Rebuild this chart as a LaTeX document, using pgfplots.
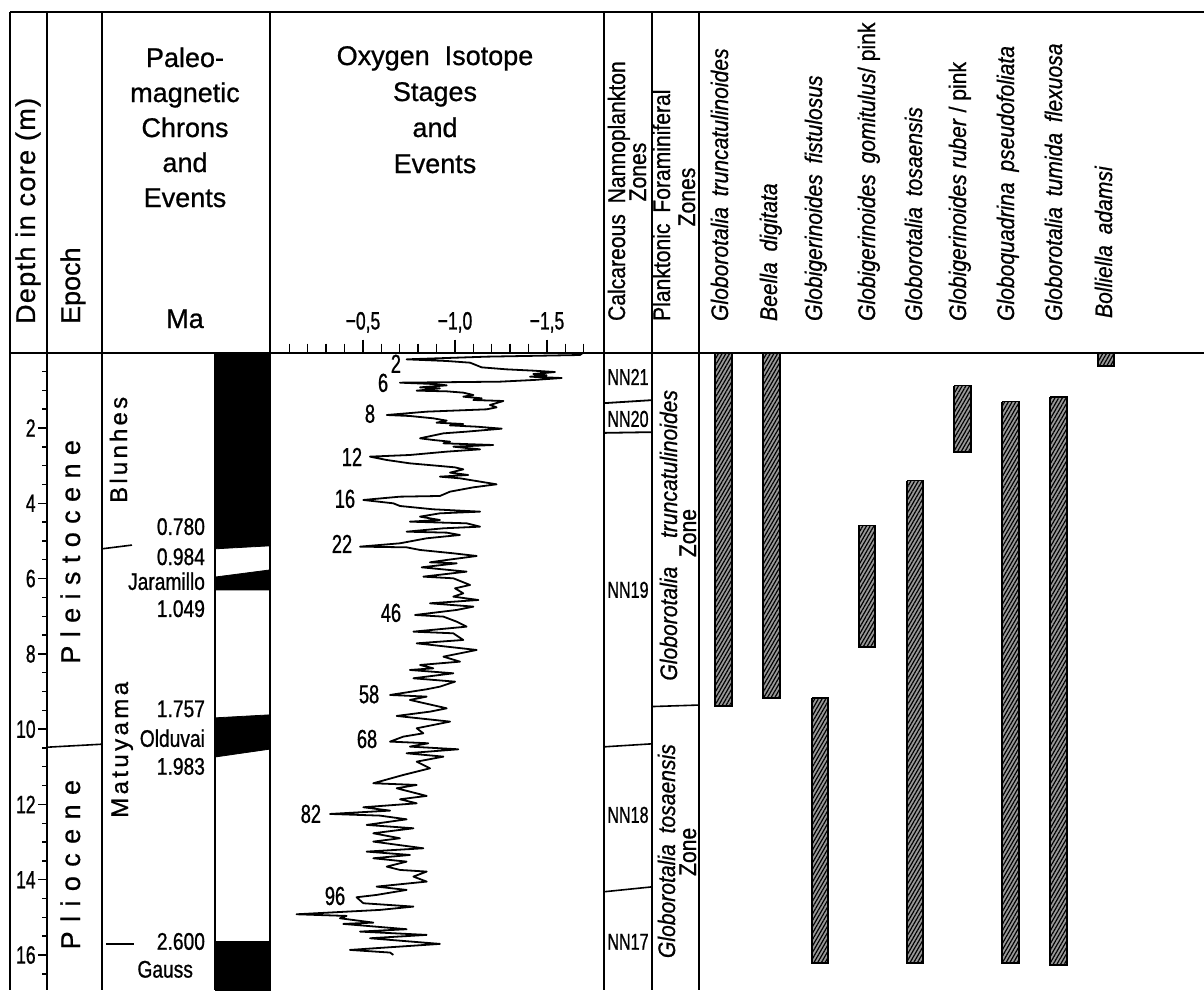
\documentclass[border=0pt]{standalone}
\usepackage{fontspec}
\setmainfont{Liberation Sans}[FakeBold=0.8]
\newfontfamily\nar{Liberation Sans}[FakeStretch=0.8,FakeBold=0.9]
\newfontfamily\nnar{Liberation Sans}[FakeStretch=0.7,FakeBold=0.9]
\newfontfamily\spc{Liberation Sans}[FakeStretch=0.88,FakeBold=0.8]
\newfontfamily\lsp{Liberation Sans}[LetterSpace=5,FakeBold=0.8]
\usepackage{pgfplots}
\pgfplotsset{compat=1.18}
\usetikzlibrary{patterns.meta}
\newlength\spk
\def\sploop#1{\ifx#1\relax\else\kern\spk#1\expandafter\sploop\fi}
\def\spfirst#1{#1\sploop}
\newcommand\spaced[2]{\setlength\spk{#1}\spfirst#2\relax}
\newcommand\hfont{\fontsize{13.5}{16}\selectfont}
\newcommand\sfont{\spc\fontsize{12}{14}\selectfont}
\newcommand\gap{\hspace{0.45em}}
\pgfplotsset{
 colline/.style={black,line width=0.9pt},
 rangebar/.style={draw=black,line width=0.8pt,line join=miter,preaction={fill=black!40},
   pattern={Lines[angle=60,distance=1.6pt,line width=0.6pt]}},
 polarity/.style={fill=black,draw=black,line width=0.4pt},
}
\begin{document}
\begin{tikzpicture}
% ---------------- frame and headers (pixel grid) ----------------
\begin{axis}[at={(0pt,0pt)},anchor=north west,width=602pt,height=495pt,scale only axis,
  xmin=0,xmax=1204,ymin=0,ymax=990,y dir=reverse,hide axis,clip=false]
\addplot[colline] coordinates {(10,12)(1204,12)};
\addplot[colline] coordinates {(10,352.7)(1204,352.7)};
\addplot[colline] coordinates {(10,12)(10,990)};
\addplot[colline] coordinates {(47,12)(47,990)};
\addplot[colline] coordinates {(102,12)(102,990)};
\addplot[colline] coordinates {(270,12)(270,990)};
\addplot[colline] coordinates {(604,12)(604,990)};
\addplot[colline] coordinates {(652,12)(652,990)};
\addplot[colline] coordinates {(699,12)(699,990)};
\node[rotate=90,anchor=base west,font=\lsp\hfont] at (axis cs:35,331) {Depth in core (m)};
\node[rotate=90,anchor=base west,font=\hfont] at (axis cs:80,331) {Epoch};
\node[anchor=base,font=\hfont] at (axis cs:185,67) {Paleo-};
\node[anchor=base,font=\hfont] at (axis cs:185,102) {magnetic};
\node[anchor=base,font=\hfont] at (axis cs:185,137) {Chrons};
\node[anchor=base,font=\hfont] at (axis cs:185,172) {and};
\node[anchor=base,font=\hfont] at (axis cs:185,207) {Events};
\node[anchor=base,font=\hfont] at (axis cs:185,328) {Ma};
\node[anchor=base,font=\hfont] at (axis cs:435,65) {Oxygen\ \ Isotope};
\node[anchor=base,font=\hfont] at (axis cs:435,101) {Stages};
\node[anchor=base,font=\hfont] at (axis cs:435,137) {and};
\node[anchor=base,font=\hfont] at (axis cs:435,173) {Events};
\node[rotate=90,anchor=base west,font=\sfont] at (axis cs:625,328) {Calcareous\gap Nannoplankton};
\node[rotate=90,anchor=base,font=\sfont] at (axis cs:646,172) {Zones};
\node[rotate=90,anchor=base west,font=\sfont] at (axis cs:670,328) {Planktonic\gap Foraminiferal};
\node[rotate=90,anchor=base,font=\sfont] at (axis cs:695,197) {Zones};
\node[rotate=90,anchor=base west,font=\sfont\itshape] at (axis cs:728,328) {Globorotalia\gap truncatulinoides};
\node[rotate=90,anchor=base west,font=\sfont\itshape] at (axis cs:777,328) {Beella\gap digitata};
\node[rotate=90,anchor=base west,font=\sfont\itshape] at (axis cs:822,328) {Globigerinoides\gap fistulosus};
\node[rotate=90,anchor=base west,font=\sfont] at (axis cs:875,328) {\textit{Globigerinoides\gap gomitulus}/ pink};
\node[rotate=90,anchor=base west,font=\sfont\itshape] at (axis cs:922,328) {Globorotalia\gap tosaensis};
\node[rotate=90,anchor=base west,font=\sfont] at (axis cs:966,328) {\textit{Globigerinoides ruber} / pink};
\node[rotate=90,anchor=base west,font=\sfont\itshape] at (axis cs:1014,328) {Globoquadrina\gap pseudofoliata};
\node[rotate=90,anchor=base west,font=\sfont\itshape] at (axis cs:1062,328) {Globorotalia\gap tumida\gap flexuosa};
\node[rotate=90,anchor=base west,font=\sfont\itshape] at (axis cs:1112,325) {Bolliella\gap adamsi};
\end{axis}
% ---------------- body in depth units ----------------
\begin{axis}[at={(0pt,-176.35pt)},anchor=north west,width=602pt,height=318.65pt,scale only axis,
  xmin=0,xmax=1204,ymin=0,ymax=16.93,y dir=reverse,hide axis,clip=false]
% polarity column
\addplot[polarity] coordinates {(215,0)(270,0)(270,5.13)(215,5.21)};
\addplot[polarity] coordinates {(215,5.96)(270,5.77)(270,6.30)(215,6.30)};
\addplot[polarity] coordinates {(215,9.70)(270,9.62)(270,10.53)(215,10.74)};
\addplot[polarity] coordinates {(215,15.65)(270,15.65)(270,16.93)(215,16.93)};
\addplot[colline] coordinates {(215,0)(215,16.93)};
% chron boundaries and epoch boundary
\addplot[black,line width=0.8pt] coordinates {(102,5.21)(132,5.11)};
\addplot[black,line width=0.8pt] coordinates {(106,15.70)(134,15.70)};
\addplot[black,line width=0.8pt] coordinates {(47,10.48)(102,10.40)};
% nannoplankton zone boundaries
\addplot[colline] coordinates {(604,1.34)(652,1.26)};
\addplot[colline] coordinates {(604,2.13)(652,2.11)};
\addplot[black,line width=0.8pt] coordinates {(604,10.47)(652,10.39)};
\addplot[black,line width=0.8pt] coordinates {(604,14.32)(652,14.19)};
% foraminiferal zone boundary
\addplot[black,line width=0.8pt] coordinates {(652,9.40)(699,9.36)};
% species ranges
\addplot[rangebar] coordinates {(715,0)(732,0)(732,9.39)(715,9.39)(715,0)};
\addplot[rangebar] coordinates {(763,0)(780,0)(780,9.18)(763,9.18)(763,0)};
\addplot[rangebar] coordinates {(812,9.18)(828,9.18)(828,16.22)(812,16.22)(812,9.18)};
\addplot[rangebar] coordinates {(859,4.59)(875,4.59)(875,7.82)(859,7.82)(859,4.59)};
\addplot[rangebar] coordinates {(907,3.40)(923,3.40)(923,16.22)(907,16.22)(907,3.40)};
\addplot[rangebar] coordinates {(954,0.875)(971,0.875)(971,2.63)(954,2.63)(954,0.875)};
\addplot[rangebar] coordinates {(1002,1.30)(1019,1.30)(1019,16.22)(1002,16.22)(1002,1.30)};
\addplot[rangebar] coordinates {(1050,1.17)(1067,1.17)(1067,16.27)(1050,16.27)(1050,1.17)};
\addplot[rangebar] coordinates {(1098,0)(1114,0)(1114,0.35)(1098,0.35)(1098,0)};
% epoch and chron names
\node[rotate=90,anchor=base,font=\hfont] at (axis cs:80,5.29) {\spaced{4.2pt}{Pleistocene}};
\node[rotate=90,anchor=base,font=\hfont] at (axis cs:80,13.60) {\spaced{4.7pt}{Pliocene}};
\node[rotate=90,anchor=base,font=\fontsize{12}{14}\selectfont] at (axis cs:127,2.58) {\spaced{1.6pt}{Blunhes}};
\node[rotate=90,anchor=base,font=\fontsize{12}{14}\selectfont] at (axis cs:128,10.55) {\spaced{1.7pt}{Matuyama}};
% ages and events
\node[anchor=base east,font=\nar\fontsize{12}{14}\selectfont] at (axis cs:212,4.84) {0.780};
\node[anchor=base east,font=\nar\fontsize{12}{14}\selectfont] at (axis cs:212,5.64) {0.984};
\node[anchor=base east,font=\nar\fontsize{12}{14}\selectfont] at (axis cs:212,6.30) {Jaramillo};
\node[anchor=base east,font=\nar\fontsize{12}{14}\selectfont] at (axis cs:212,7.02) {1.049};
\node[anchor=base east,font=\nar\fontsize{12}{14}\selectfont] at (axis cs:212,9.68) {1.757};
\node[anchor=base east,font=\nar\fontsize{12}{14}\selectfont] at (axis cs:212,10.47) {Olduvai};
\node[anchor=base east,font=\nar\fontsize{12}{14}\selectfont] at (axis cs:212,11.21) {1.983};
\node[anchor=base east,font=\nar\fontsize{12}{14}\selectfont] at (axis cs:212,15.86) {2.600};
\node[anchor=base east,font=\nar\fontsize{12}{14}\selectfont] at (axis cs:200,16.60) {Gauss};
% nannoplankton zones
\node[anchor=base,font=\nnar\fontsize{11.5}{13}\selectfont] at (axis cs:628,0.857) {NN21};
\node[anchor=base,font=\nnar\fontsize{11.5}{13}\selectfont] at (axis cs:628,1.97) {NN20};
\node[anchor=base,font=\nnar\fontsize{11.5}{13}\selectfont] at (axis cs:628,6.51) {NN19};
\node[anchor=base,font=\nnar\fontsize{11.5}{13}\selectfont] at (axis cs:628,12.49) {NN18};
\node[anchor=base,font=\nnar\fontsize{11.5}{13}\selectfont] at (axis cs:628,15.86) {NN17};
% foraminiferal zones
\node[rotate=90,anchor=base,font=\sfont\itshape] at (axis cs:677,4.85) {Globorotalia\hspace{1.2em}truncatulinoides};
\node[rotate=90,anchor=base,font=\sfont] at (axis cs:696,4.79) {Zone};
\node[rotate=90,anchor=base,font=\sfont\itshape] at (axis cs:675,13.24) {Globorotalia\gap tosaensis};
\node[rotate=90,anchor=base,font=\sfont] at (axis cs:696,13.26) {Zone};
\end{axis}
% ---------------- depth scale ----------------
\begin{axis}[at={(23.5pt,-176.35pt)},anchor=north west,width=10pt,height=318.65pt,scale only axis,
  xmin=0,xmax=1,ymin=0,ymax=16.93,y dir=reverse,axis x line=none,axis y line=left,
  y axis line style={-,line width=0.9pt},
  ytick={2,4,6,8,10,12,14,16},yticklabels={2,4,6,8,10,12,14,16},
  minor ytick={0.5,1,1.5,2.5,3,3.5,4.5,5,5.5,6.5,7,7.5,8.5,9,9.5,10.5,11,11.5,12.5,13,13.5,14.5,15,15.5,16.5},
  tick align=outside,major tick length=4.5pt,minor tick length=2.5pt,
  every tick/.style={black,line width=0.7pt},
  yticklabel style={font=\nnar\fontsize{12.5}{13}\selectfont,inner sep=1pt}]
\addplot[draw=none] coordinates {(0,0)(1,16)};
\end{axis}
% ---------------- oxygen isotope curve ----------------
\begin{axis}[at={(135pt,-176.35pt)},anchor=north west,width=167pt,height=318.65pt,scale only axis,
  xmin=-1.8098,xmax=0.0054,x dir=reverse,ymin=0,ymax=16.93,y dir=reverse,
  axis y line=none,axis x line=top,x axis line style={-,line width=0.9pt},
  xtick={-0.5,-1,-1.5},xticklabels={{−0,5},{−1,0},{−1,5}},
  minor xtick={-0.1,-0.2,-0.3,-0.4,-0.6,-0.7,-0.8,-0.9,-1.1,-1.2,-1.3,-1.4,-1.6,-1.7},
  tick align=outside,major tick length=6.5pt,minor tick length=4.5pt,
  every tick/.style={black,line width=0.7pt},
  xticklabel style={font=\nnar\fontsize{12.5}{13}\selectfont},clip=false]
\addplot[black,line width=0.9pt,line join=round] coordinates {
(-1.697,0.000)(-1.679,0.061)(-1.172,0.105)(-0.737,0.176)(-0.955,0.220)(-1.082,0.265)
(-1.145,0.389)(-1.281,0.442)(-1.426,0.477)(-1.543,0.513)(-1.426,0.566)(-1.498,0.601)
(-1.408,0.637)(-1.580,0.672)(-1.426,0.725)(-1.245,0.769)(-0.701,0.796)(-0.882,0.831)
(-0.955,0.867)(-0.810,0.920)(-0.918,0.947)(-0.792,1.008)(-0.955,1.026)(-1.045,1.061)
(-1.100,1.124)(-1.045,1.168)(-1.145,1.212)(-1.100,1.256)(-1.263,1.283)(-1.190,1.389)
(-1.226,1.451)(-1.172,1.504)(-0.846,1.566)(-0.629,1.655)(-0.755,1.681)(-0.882,1.743)
(-0.955,1.805)(-0.900,1.858)(-1.045,1.894)(-0.973,1.930)(-1.118,1.965)(-1.254,2.018)
(-1.063,2.097)(-0.937,2.142)(-0.810,2.274)(-0.882,2.319)(-0.973,2.363)(-0.937,2.407)
(-1.208,2.452)(-0.991,2.496)(-1.136,2.567)(-0.955,2.628)(-0.755,2.717)(-0.538,2.761)
(-0.629,2.850)(-0.755,2.939)(-0.918,3.009)(-0.999,3.045)(-1.045,3.098)(-0.973,3.186)
(-1.072,3.248)(-0.918,3.293)(-1.027,3.337)(-1.226,3.496)(-1.100,3.576)(-0.973,3.691)
(-0.918,3.806)(-0.701,3.824)(-0.502,3.912)(-0.665,4.001)(-0.701,4.072)(-0.882,4.160)
(-1.136,4.222)(-0.918,4.267)(-0.810,4.355)(-0.918,4.444)(-0.755,4.488)(-1.063,4.532)
(-1.136,4.621)(-0.937,4.665)(-0.737,4.754)(-0.955,4.780)(-1.027,4.842)(-0.846,4.930)
(-0.701,5.063)(-0.484,5.152)(-0.737,5.170)(-0.810,5.240)(-0.991,5.329)(-1.118,5.400)
(-0.955,5.506)(-0.864,5.568)(-1.009,5.595)(-0.819,5.701)(-1.063,5.816)(-0.828,5.949)
(-0.991,5.993)(-1.082,6.170)(-1.000,6.259)(-1.045,6.392)(-0.991,6.480)(-1.127,6.569)
(-0.864,6.657)(-1.100,6.745)(-1.009,6.834)(-0.783,6.967)(-0.937,7.011)(-1.009,7.144)
(-1.063,7.277)(-0.774,7.410)(-0.991,7.454)(-1.045,7.631)(-0.792,7.720)(-0.955,7.808)
(-1.118,7.897)(-0.937,8.074)(-1.027,8.207)(-0.810,8.295)(-0.882,8.384)(-0.755,8.428)
(-0.991,8.516)(-0.774,8.649)(-1.000,8.738)(-0.918,8.871)(-0.846,8.941)(-0.647,9.092)
(-0.846,9.136)(-0.755,9.224)(-0.955,9.446)(-0.864,9.535)(-0.683,9.649)(-0.973,9.800)
(-0.792,9.977)(-0.828,10.110)(-0.719,10.199)(-0.647,10.331)(-0.855,10.375)(-0.755,10.464)
(-1.018,10.535)(-0.737,10.641)(-0.937,10.730)(-0.792,10.863)(-0.864,11.040)(-0.719,11.217)
(-0.556,11.438)(-0.792,11.482)(-0.683,11.571)(-0.846,11.774)(-0.701,11.863)(-0.792,11.970)
(-0.502,12.075)(-0.647,12.164)(-0.321,12.253)(-0.592,12.297)(-0.737,12.395)(-0.520,12.544)
(-0.774,12.633)(-0.556,12.766)(-0.701,12.899)(-0.556,12.987)(-0.828,13.165)(-0.520,13.253)
(-0.755,13.342)(-0.556,13.430)(-0.737,13.519)(-0.629,13.652)(-0.701,13.740)(-0.846,13.784)
(-0.774,13.917)(-0.846,14.050)(-0.574,14.183)(-0.737,14.271)(-0.574,14.404)(-0.465,14.466)
(-0.502,14.625)(-0.774,14.714)(-0.592,14.802)(-0.139,14.918)(-0.411,14.962)(-0.375,15.024)
(-0.556,15.139)(-0.393,15.174)(-0.737,15.315)(-0.484,15.378)(-0.846,15.466)(-0.538,15.555)
(-0.918,15.705)(-0.429,15.865)(-0.647,15.935)(-0.665,15.997)
};
\node[anchor=base,font=\nnar\fontsize{13}{14}\selectfont] at (axis cs:-0.679,0.534) {2};
\node[anchor=base,font=\nnar\fontsize{13}{14}\selectfont] at (axis cs:-0.609,1.04) {6};
\node[anchor=base,font=\nnar\fontsize{13}{14}\selectfont] at (axis cs:-0.538,1.86) {8};
\node[anchor=base,font=\nnar\fontsize{13}{14}\selectfont] at (axis cs:-0.440,3.01) {12};
\node[anchor=base,font=\nnar\fontsize{13}{14}\selectfont] at (axis cs:-0.402,4.12) {16};
\node[anchor=base,font=\nnar\fontsize{13}{14}\selectfont] at (axis cs:-0.386,5.32) {22};
\node[anchor=base,font=\nnar\fontsize{13}{14}\selectfont] at (axis cs:-0.652,7.15) {46};
\node[anchor=base,font=\nnar\fontsize{13}{14}\selectfont] at (axis cs:-0.533,9.31) {58};
\node[anchor=base,font=\nnar\fontsize{13}{14}\selectfont] at (axis cs:-0.522,10.50) {68};
\node[anchor=base,font=\nnar\fontsize{13}{14}\selectfont] at (axis cs:-0.217,12.49) {82};
\node[anchor=base,font=\nnar\fontsize{13}{14}\selectfont] at (axis cs:-0.348,14.67) {96};
\end{axis}
\pgfresetboundingbox
\path (0pt,0pt) rectangle (602pt,-495pt);
\end{tikzpicture}
\end{document}
